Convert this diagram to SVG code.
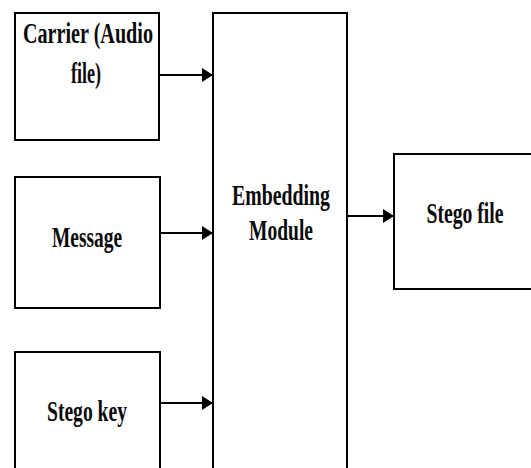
<svg xmlns="http://www.w3.org/2000/svg" width="531" height="468" viewBox="0 0 531 468">
<style>
.box{fill:#fff;stroke:#000;stroke-width:2}
.lbl{font-family:"Liberation Serif","Times New Roman",serif;font-weight:bold;font-size:29px;fill:#0a0a0a;text-anchor:middle}
.conn{stroke:#000;stroke-width:2;fill:none}
</style>
<defs>
<marker id="ah" markerWidth="11" markerHeight="14" refX="11" refY="7" orient="auto" markerUnits="userSpaceOnUse">
<path d="M0,0 L11,7 L0,14 Z" fill="#000"/>
</marker>
</defs>
<rect width="531" height="468" fill="#fff"/>
<g id="carrier">
<rect class="box" x="15" y="13" width="144" height="127"/>
<text class="lbl" x="88" y="43" textLength="130" lengthAdjust="spacingAndGlyphs">Carrier (Audio</text>
<text class="lbl" x="86" y="83" textLength="30" lengthAdjust="spacingAndGlyphs">file)</text>
</g>
<g id="message">
<rect class="box" x="15" y="177" width="145" height="131"/>
<text class="lbl" x="87" y="247" textLength="70" lengthAdjust="spacingAndGlyphs">Message</text>
</g>
<g id="stegokey">
<rect class="box" x="15" y="352" width="145" height="130"/>
<text class="lbl" x="87" y="421" textLength="80" lengthAdjust="spacingAndGlyphs">Stego key</text>
</g>
<g id="embedding">
<rect class="box" x="213" y="13" width="134" height="470"/>
<text class="lbl" x="281" y="205" textLength="98" lengthAdjust="spacingAndGlyphs">Embedding</text>
<text class="lbl" x="281" y="240" textLength="64" lengthAdjust="spacingAndGlyphs">Module</text>
</g>
<g id="stegofile">
<rect class="box" x="394" y="154" width="150" height="135"/>
<text class="lbl" x="465" y="223" textLength="77" lengthAdjust="spacingAndGlyphs">Stego file</text>
</g>
<g id="connectors">
<line class="conn" x1="160" y1="75" x2="213" y2="75" marker-end="url(#ah)"/>
<line class="conn" x1="161" y1="233" x2="213" y2="233" marker-end="url(#ah)"/>
<line class="conn" x1="161" y1="403" x2="213" y2="403" marker-end="url(#ah)"/>
<line class="conn" x1="348" y1="216" x2="394" y2="216" marker-end="url(#ah)"/>
</g>
</svg>
